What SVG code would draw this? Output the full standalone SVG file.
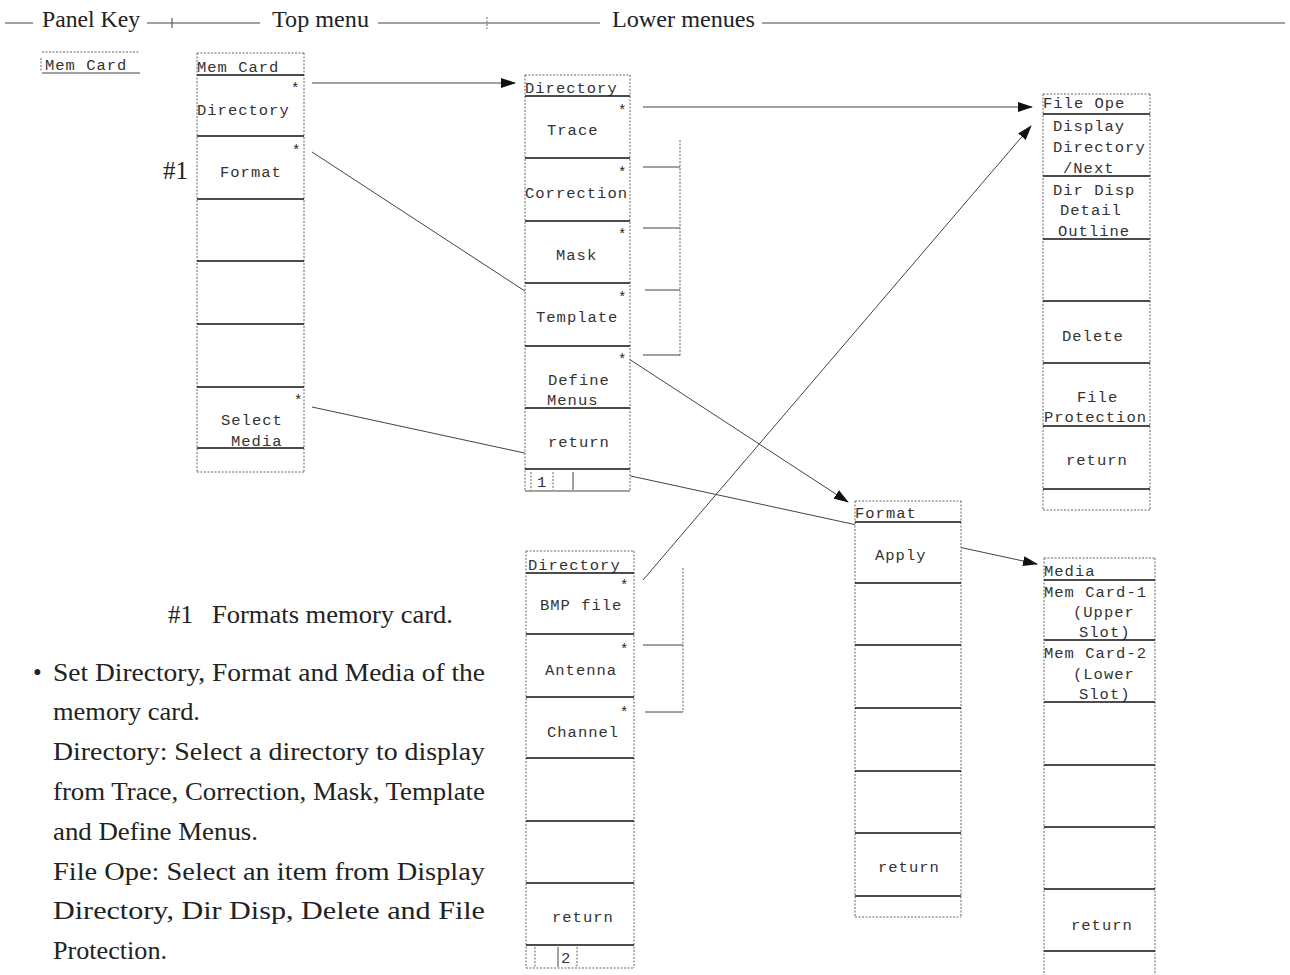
<svg xmlns="http://www.w3.org/2000/svg" width="1290" height="975" viewBox="0 0 1290 975">
<style>
.bg{fill:#fff;stroke:none}
.edge{stroke:#666;stroke-width:1;stroke-dasharray:2 1.5;fill:none}
.sep{stroke:#111;stroke-width:1.6}
.thin{stroke:#444;stroke-width:1}
.m{font-family:"Liberation Mono",monospace;font-size:15.5px;letter-spacing:1px;fill:#333}
.st{font-family:"Liberation Mono",monospace;font-size:14px;fill:#222}
.hd{font-family:"Liberation Serif",serif;font-size:24px;fill:#222}
.tx{font-family:"Liberation Serif",serif;font-size:25px;fill:#222}
.conn{stroke:#444;stroke-width:1;fill:none}
</style>
<defs>
<marker id="arr" markerUnits="userSpaceOnUse" markerWidth="15" markerHeight="10" refX="14" refY="5" orient="auto">
<path d="M0,0 L15,5 L0,10 z" fill="#111"/>
</marker>
</defs>

<g id="header">
<line class="thin" x1="5" y1="23" x2="33" y2="23"/>
<text class="hd" x="42" y="27" textLength="98" lengthAdjust="spacingAndGlyphs">Panel Key</text>
<line class="thin" x1="147" y1="23" x2="260" y2="23"/>
<line class="thin" x1="172" y1="18" x2="172" y2="28"/>
<text class="hd" x="272" y="27" textLength="97" lengthAdjust="spacingAndGlyphs">Top menu</text>
<line class="thin" x1="378" y1="23" x2="600" y2="23"/>
<line class="edge" x1="487" y1="17" x2="487" y2="29"/>
<text class="hd" x="612" y="27" textLength="143" lengthAdjust="spacingAndGlyphs">Lower menues</text>
<line class="thin" x1="762" y1="23" x2="1285" y2="23"/>
</g>

<g id="connectors">
<path class="conn" d="M312,83 L515,83" marker-end="url(#arr)"/>
<path class="conn" d="M312,152 L848,502" marker-end="url(#arr)"/>
<path class="conn" d="M312,407 L1037,564" marker-end="url(#arr)"/>
<path class="conn" d="M643,107 L1032,107" marker-end="url(#arr)"/>
<path class="conn" d="M643,580 L1031,126" marker-end="url(#arr)"/>
</g>

<g id="panel-key">
<line class="edge" x1="42" y1="52" x2="140" y2="52"/>
<line class="edge" x1="41" y1="58" x2="41" y2="72"/>
<text class="m" x="45" y="70">Mem Card</text>
<line class="thin" x1="42" y1="73" x2="140" y2="73"/>
</g>

<g id="top-menu">
<rect class="bg" x="197" y="53" width="107" height="419"/>
<line class="edge" x1="197" y1="53" x2="304" y2="53"/>
<line class="edge" x1="197" y1="53" x2="197" y2="472"/>
<line class="edge" x1="304" y1="53" x2="304" y2="472"/>
<line class="edge" x1="197" y1="472" x2="304" y2="472"/>
<text class="m" x="197" y="72">Mem Card</text>
<line class="sep" x1="197" y1="75" x2="304" y2="75"/>
<text class="st" x="291" y="93">*</text>
<text class="m" x="197" y="115">Directory</text>
<line class="sep" x1="197" y1="136" x2="304" y2="136"/>
<text class="st" x="292" y="155">*</text>
<text class="m" x="220" y="177">Format</text>
<line class="sep" x1="197" y1="199" x2="304" y2="199"/>
<line class="sep" x1="197" y1="261" x2="304" y2="261"/>
<line class="sep" x1="197" y1="324" x2="304" y2="324"/>
<line class="sep" x1="197" y1="387" x2="304" y2="387"/>
<text class="st" x="294" y="405">*</text>
<text class="m" x="221" y="425">Select</text>
<text class="m" x="231" y="446">Media</text>
<line class="sep" x1="197" y1="448" x2="304" y2="448"/>
<text class="tx" x="163" y="179">#1</text>
</g>

<g id="dir-1">
<rect class="bg" x="525" y="75" width="105" height="416"/>
<line class="edge" x1="525" y1="75" x2="630" y2="75"/>
<line class="edge" x1="525" y1="75" x2="525" y2="491"/>
<line class="edge" x1="630" y1="75" x2="630" y2="491"/>
<line class="thin" x1="525" y1="491" x2="630" y2="491"/>
<text class="m" x="525" y="93">Directory</text>
<line class="sep" x1="525" y1="96" x2="630" y2="96"/>
<text class="st" x="618" y="115">*</text>
<text class="m" x="547" y="135">Trace</text>
<line class="sep" x1="525" y1="158" x2="630" y2="158"/>
<text class="st" x="618" y="177">*</text>
<text class="m" x="525" y="198">Correction</text>
<line class="sep" x1="525" y1="221" x2="630" y2="221"/>
<text class="st" x="618" y="239">*</text>
<text class="m" x="556" y="260">Mask</text>
<line class="sep" x1="525" y1="283" x2="630" y2="283"/>
<text class="st" x="618" y="302">*</text>
<text class="m" x="536" y="322">Template</text>
<line class="sep" x1="525" y1="346" x2="630" y2="346"/>
<text class="st" x="618" y="364">*</text>
<text class="m" x="548" y="385">Define</text>
<text class="m" x="547" y="405">Menus</text>
<line class="sep" x1="525" y1="408" x2="630" y2="408"/>
<text class="m" x="548" y="447">return</text>
<line class="sep" x1="525" y1="469" x2="630" y2="469"/>
<line class="edge" x1="531" y1="472" x2="531" y2="490"/>
<line class="edge" x1="553" y1="472" x2="553" y2="490"/>
<line class="thin" x1="573" y1="472" x2="573" y2="490"/>
<text class="m" x="537" y="487">1</text>
<line class="edge" x1="680" y1="140" x2="680" y2="357"/>
<line class="thin" x1="643" y1="167" x2="680" y2="167"/>
<line class="thin" x1="643" y1="228" x2="680" y2="228"/>
<line class="thin" x1="645" y1="290" x2="680" y2="290"/>
<line class="thin" x1="643" y1="355" x2="680" y2="355"/>
</g>

<g id="dir-2">
<rect class="bg" x="526" y="551" width="108" height="417"/>
<line class="edge" x1="526" y1="551" x2="634" y2="551"/>
<line class="edge" x1="526" y1="551" x2="526" y2="968"/>
<line class="edge" x1="634" y1="551" x2="634" y2="968"/>
<line class="edge" x1="526" y1="968" x2="634" y2="968"/>
<text class="m" x="528" y="570">Directory</text>
<line class="sep" x1="526" y1="573" x2="634" y2="573"/>
<text class="st" x="620" y="590">*</text>
<text class="m" x="540" y="610">BMP file</text>
<line class="sep" x1="526" y1="634" x2="634" y2="634"/>
<text class="st" x="620" y="654">*</text>
<text class="m" x="545" y="675">Antenna</text>
<line class="sep" x1="526" y1="697" x2="634" y2="697"/>
<text class="st" x="620" y="717">*</text>
<text class="m" x="547" y="737">Channel</text>
<line class="sep" x1="526" y1="758" x2="634" y2="758"/>
<line class="sep" x1="526" y1="821" x2="634" y2="821"/>
<line class="sep" x1="526" y1="883" x2="634" y2="883"/>
<text class="m" x="552" y="922">return</text>
<line class="sep" x1="526" y1="945" x2="634" y2="945"/>
<line class="edge" x1="535" y1="947" x2="535" y2="967"/>
<line class="thin" x1="558" y1="947" x2="558" y2="967"/>
<line class="edge" x1="577" y1="947" x2="577" y2="967"/>
<text class="m" x="561" y="963">2</text>
<line class="edge" x1="683" y1="568" x2="683" y2="712"/>
<line class="thin" x1="643" y1="645" x2="683" y2="645"/>
<line class="thin" x1="645" y1="712" x2="683" y2="712"/>
</g>

<g id="file-ope">
<rect class="bg" x="1043" y="94" width="107" height="416"/>
<line class="edge" x1="1043" y1="94" x2="1150" y2="94"/>
<line class="edge" x1="1043" y1="94" x2="1043" y2="510"/>
<line class="edge" x1="1150" y1="94" x2="1150" y2="510"/>
<line class="edge" x1="1043" y1="510" x2="1150" y2="510"/>
<text class="m" x="1043" y="108">File Ope</text>
<line class="sep" x1="1043" y1="114" x2="1150" y2="114"/>
<text class="m" x="1053" y="131">Display</text>
<text class="m" x="1053" y="152">Directory</text>
<text class="m" x="1063" y="173">/Next</text>
<line class="sep" x1="1043" y1="176" x2="1150" y2="176"/>
<text class="m" x="1053" y="195">Dir Disp</text>
<text class="m" x="1060" y="215">Detail</text>
<text class="m" x="1058" y="236">Outline</text>
<line class="sep" x1="1043" y1="239" x2="1150" y2="239"/>
<line class="sep" x1="1043" y1="301" x2="1150" y2="301"/>
<text class="m" x="1062" y="341">Delete</text>
<line class="sep" x1="1043" y1="363" x2="1150" y2="363"/>
<text class="m" x="1077" y="402">File</text>
<text class="m" x="1044" y="422">Protection</text>
<line class="sep" x1="1043" y1="426" x2="1150" y2="426"/>
<text class="m" x="1066" y="465">return</text>
<line class="sep" x1="1043" y1="489" x2="1150" y2="489"/>
</g>

<g id="format-menu">
<rect class="bg" x="855" y="501" width="106" height="416"/>
<line class="edge" x1="855" y1="501" x2="961" y2="501"/>
<line class="edge" x1="855" y1="501" x2="855" y2="917"/>
<line class="edge" x1="961" y1="501" x2="961" y2="917"/>
<line class="edge" x1="855" y1="917" x2="961" y2="917"/>
<text class="m" x="855" y="518">Format</text>
<line class="sep" x1="855" y1="522" x2="961" y2="522"/>
<text class="m" x="875" y="560">Apply</text>
<line class="sep" x1="855" y1="583" x2="961" y2="583"/>
<line class="sep" x1="855" y1="645" x2="961" y2="645"/>
<line class="sep" x1="855" y1="708" x2="961" y2="708"/>
<line class="sep" x1="855" y1="771" x2="961" y2="771"/>
<line class="sep" x1="855" y1="833" x2="961" y2="833"/>
<text class="m" x="878" y="872">return</text>
<line class="sep" x1="855" y1="896" x2="961" y2="896"/>
</g>

<g id="media-menu">
<rect class="bg" x="1044" y="558" width="111" height="417"/>
<line class="edge" x1="1044" y1="558" x2="1155" y2="558"/>
<line class="edge" x1="1044" y1="558" x2="1044" y2="975"/>
<line class="edge" x1="1155" y1="558" x2="1155" y2="975"/>
<text class="m" x="1044" y="576">Media</text>
<line class="sep" x1="1044" y1="580" x2="1155" y2="580"/>
<text class="m" x="1044" y="597">Mem Card-1</text>
<text class="m" x="1073" y="617">(Upper</text>
<text class="m" x="1079" y="637">Slot)</text>
<line class="sep" x1="1044" y1="640" x2="1155" y2="640"/>
<text class="m" x="1044" y="658">Mem Card-2</text>
<text class="m" x="1073" y="679">(Lower</text>
<text class="m" x="1079" y="699">Slot)</text>
<line class="sep" x1="1044" y1="702" x2="1155" y2="702"/>
<line class="sep" x1="1044" y1="765" x2="1155" y2="765"/>
<line class="sep" x1="1044" y1="827" x2="1155" y2="827"/>
<line class="sep" x1="1044" y1="889" x2="1155" y2="889"/>
<text class="m" x="1071" y="930">return</text>
<line class="sep" x1="1044" y1="951" x2="1155" y2="951"/>
</g>

<g id="notes">
<text class="tx" x="168" y="623">#1</text>
<text class="tx" x="212" y="623" textLength="241" lengthAdjust="spacingAndGlyphs">Formats memory card.</text>
<text class="tx" x="33" y="681">•</text>
<text class="tx" x="53" y="681" textLength="432" lengthAdjust="spacingAndGlyphs">Set Directory, Format and Media of the</text>
<text class="tx" x="53" y="720" textLength="147" lengthAdjust="spacingAndGlyphs">memory card.</text>
<text class="tx" x="53" y="760" textLength="432" lengthAdjust="spacingAndGlyphs">Directory: Select a directory to display</text>
<text class="tx" x="53" y="800" textLength="432" lengthAdjust="spacingAndGlyphs">from Trace, Correction, Mask, Template</text>
<text class="tx" x="53" y="840" textLength="205" lengthAdjust="spacingAndGlyphs">and Define Menus.</text>
<text class="tx" x="53" y="880" textLength="432" lengthAdjust="spacingAndGlyphs">File Ope: Select an item from Display</text>
<text class="tx" x="53" y="919" textLength="432" lengthAdjust="spacingAndGlyphs">Directory, Dir Disp, Delete and File</text>
<text class="tx" x="53" y="959" textLength="114" lengthAdjust="spacingAndGlyphs">Protection.</text>
</g>
</svg>
